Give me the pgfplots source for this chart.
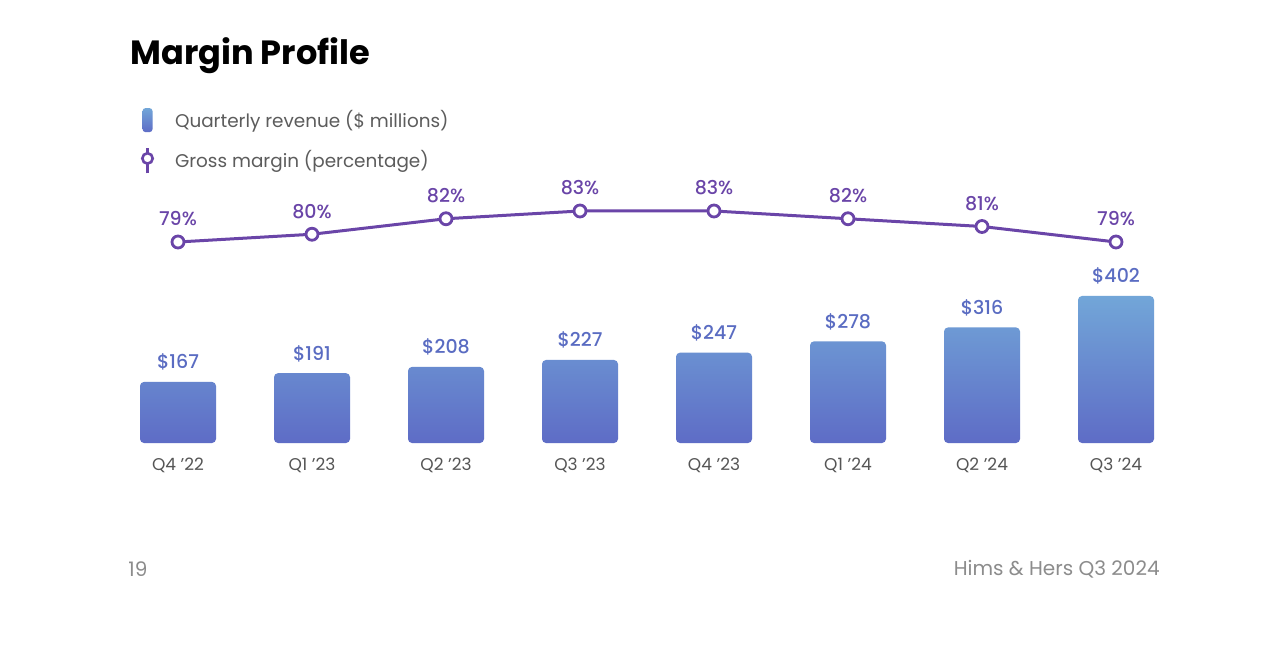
\documentclass[border=0pt]{standalone}
\usepackage{fontspec}
\setmainfont{Poppins}
\newfontfamily\medfont{Poppins Medium}
\usepackage{pgfplots}
\pgfplotsset{compat=1.18}

\definecolor{bartop}{HTML}{72A6D8}
\definecolor{barbot}{HTML}{5E6CC6}
\definecolor{barlab}{HTML}{5A6CC2}
\definecolor{gm}{HTML}{6A45A8}
\definecolor{ticktxt}{HTML}{555555}
\definecolor{legtxt}{HTML}{5C5C5C}
\definecolor{foot}{HTML}{8C8C8C}

\begin{document}
\begin{tikzpicture}
\path[use as bounding box] (0,0) rectangle (640pt,324.5pt);
\fill[white] (0,0) rectangle (640pt,324.5pt);

% title and footer
\node[anchor=west, inner sep=0pt, font=\fontsize{16.8}{17}\selectfont\bfseries] at (65pt,296.5pt) {Margin Profile};
\node[anchor=west, inner sep=0pt, text=foot, font=\fontsize{10}{10}\selectfont] at (64pt,40pt) {19};
\node[anchor=east, inner sep=0pt, text=foot, font=\fontsize{10}{10}\selectfont] at (580pt,40pt) {Hims \& Hers Q3 2024};

% revenue bars
\begin{axis}[
  at={(55.5pt,103pt)}, anchor=south west,
  x=67pt, y=0.18285pt,
  xmin=-0.5, xmax=7.5, ymin=0, ymax=450,
  axis x line*=bottom, axis y line=none,
  x axis line style={draw=none},
  major tick length=0pt,
  xtick={0,...,7},
  xticklabels={Q4 ’22, Q1 ’23, Q2 ’23, Q3 ’23, Q4 ’23, Q1 ’24, Q2 ’24, Q3 ’24},
  xticklabel style={anchor=base, yshift=-13.5pt, text=ticktxt, font=\fontsize{8.5}{8.5}\selectfont},
  ytick=\empty,
  clip=false,
  /pgf/number format/assume math mode=true,
  legend style={at={(0.028,2.035)}, anchor=north west, draw=none, fill=none,
    inner sep=0pt, outer sep=0pt, row sep=7.5pt,
    font=\fontsize{9.2}{9.2}\selectfont, text=legtxt,
    nodes={inner sep=0pt},
    /tikz/every odd column/.append style={column sep=10.5pt}},
  legend cell align=left,
]
\addplot[ybar, bar width=38pt, draw=none, top color=bartop, bottom color=barbot, rounded corners=2pt,
  nodes near coords={\$\pgfmathprintnumber{\pgfplotspointmeta}},
  nodes near coords style={anchor=base, yshift=6.5pt, text=barlab, font=\fontsize{9.5}{9.5}\selectfont\medfont},
  legend image code/.code={\shade[top color=bartop, bottom color=barbot, rounded corners=1.5pt] (-2.5pt,-6pt) rectangle (2.5pt,6pt);}]
  coordinates {(0,167) (1,191) (2,208) (3,227) (4,247) (5,278) (6,316) (7,402)};
\addlegendentry{Quarterly revenue (\$ millions)}
\addlegendimage{legend image code/.code={
  \draw[gm, line width=1.3pt] (0pt,-6.5pt) -- (0pt,6pt);
  \draw[gm, line width=1.3pt, fill=white] (0pt,1pt) circle (2.6pt);}}
\addlegendentry{Gross margin (percentage)}
\end{axis}

% gross margin line
\begin{axis}[
  at={(55.5pt,203.5pt)}, anchor=south west,
  x=67pt, y=3.875pt,
  xmin=-0.5, xmax=7.5, ymin=79, ymax=84,
  hide axis, clip=false,
  /pgf/number format/assume math mode=true,
]
\addplot[gm, line width=1.5pt, mark=*, mark size=3pt, mark options={fill=white, line width=1.4pt},
  nodes near coords={\pgfmathprintnumber{\pgfplotspointmeta}\%},
  nodes near coords style={anchor=base, yshift=8pt, text=gm, font=\fontsize{9.5}{9.5}\selectfont\medfont}]
  coordinates {(0,79) (1,80) (2,82) (3,83) (4,83) (5,82) (6,81) (7,79)};
\end{axis}
\end{tikzpicture}
\end{document}
